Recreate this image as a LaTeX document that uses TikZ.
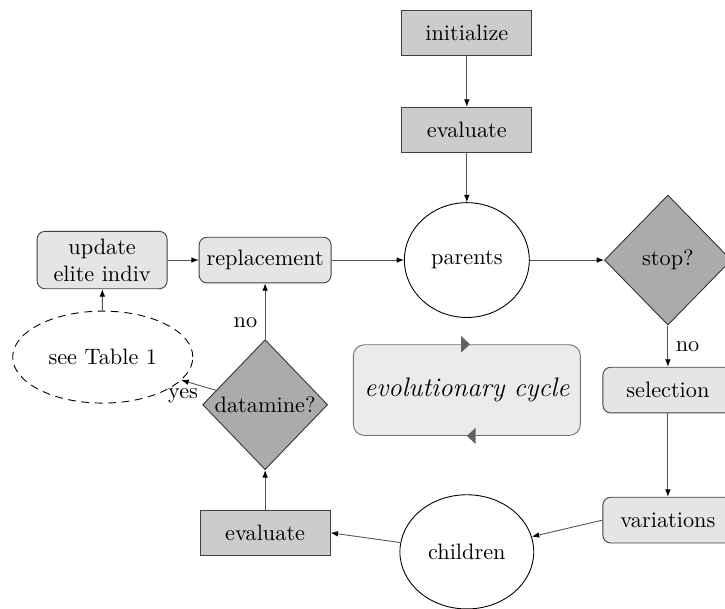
\documentclass[tikz,border=0pt]{standalone}
\usetikzlibrary{arrows.meta,positioning,shapes.geometric,calc}
\definecolor{linegray}{gray}{0.33}
\definecolor{markgray}{gray}{0.38}

\begin{document}
\begin{tikzpicture}[
  conn/.style={draw=linegray, -{Latex[length=3.3pt,width=2.5pt,color=black]}},
  opbox/.style={draw=black!75, fill=black!20, minimum width=2.05cm, minimum height=0.72cm},
  stepbox/.style={draw=black!75, fill=black!10, rounded corners=3.5pt, minimum width=2.05cm, minimum height=0.72cm, align=center},
  popnode/.style={draw, ellipse, inner sep=0pt},
  testnode/.style={draw=black!80, diamond, fill=black!33, inner sep=0pt, minimum width=2cm, minimum height=2.05cm}
]
  \useasboundingbox (0,0) rectangle (11.43,9.60);
  \clip (0,0) rectangle (11.43,9.60);
  %% main line
  \node[opbox] (init) at (7.36,9.08) {initialize};
  \node[opbox] (evaltop) at (7.36,7.55) {evaluate};
  \node[popnode, minimum width=1.97cm, minimum height=1.81cm] (parents) at (7.36,5.50) {parents};
  \node[testnode] (stop) at (10.53,5.50) {stop?};
  \node[stepbox] (select) at (10.53,3.45) {selection};
  \node[stepbox] (vary) at (10.53,1.40) {variations};
  \node[popnode, minimum width=2.11cm, minimum height=1.80cm] (children) at (7.36,0.90) {children};
  \node[opbox] (evalbot) at (4.18,1.20) {evaluate};
  \node[testnode, minimum width=1.97cm] (datamine) at (4.18,3.22) {datamine?};
  \node[stepbox] (replace) at (4.18,5.50) {replacement};
  \node[stepbox] (elite) at (1.61,5.50) {update\\elite indiv};
  \node[draw, dash pattern=on 3.5pt off 2.5pt, ellipse, minimum width=2.84cm, minimum height=1.45cm] (table) at (1.62,3.97) {see Table 1};
  %% cycle
  \node[draw=black!55, fill=black!8, rounded corners=5pt, minimum width=3.58cm, minimum height=1.43cm, font=\large\itshape] (cycle) at (7.36,3.45) {evolutionary cycle};
  \fill[markgray] ($(cycle.north)+(-0.09,0.13)$) -- ($(cycle.north)+(0.05,0)$) -- ($(cycle.north)+(-0.09,-0.13)$) -- cycle;
  \fill[markgray] ($(cycle.south)+(0.14,0.13)$) -- (cycle.south) -- ($(cycle.south)+(0.14,-0.13)$) -- cycle;
  %% connectors
  \draw[conn] (init) -- (evaltop);
  \draw[conn] (evaltop) -- (parents);
  \draw[conn] (parents) -- (stop);
  \draw[conn] (stop) -- node[right] {no} (select);
  \draw[conn] (select) -- (vary);
  \draw[conn] (vary.west) -- (children);
  \draw[conn] (children) -- (evalbot.east);
  \draw[conn] (evalbot) -- (datamine);
  \draw[conn] (datamine) -- node[left, pos=0.3] {no} (replace);
  \draw[conn] (datamine) -- node[below, pos=0.95] {yes} (table);
  \draw[conn] (table) -- (elite);
  \draw[conn] (elite) -- (replace);
  \draw[conn] (replace) -- (parents);
\end{tikzpicture}
\end{document}
